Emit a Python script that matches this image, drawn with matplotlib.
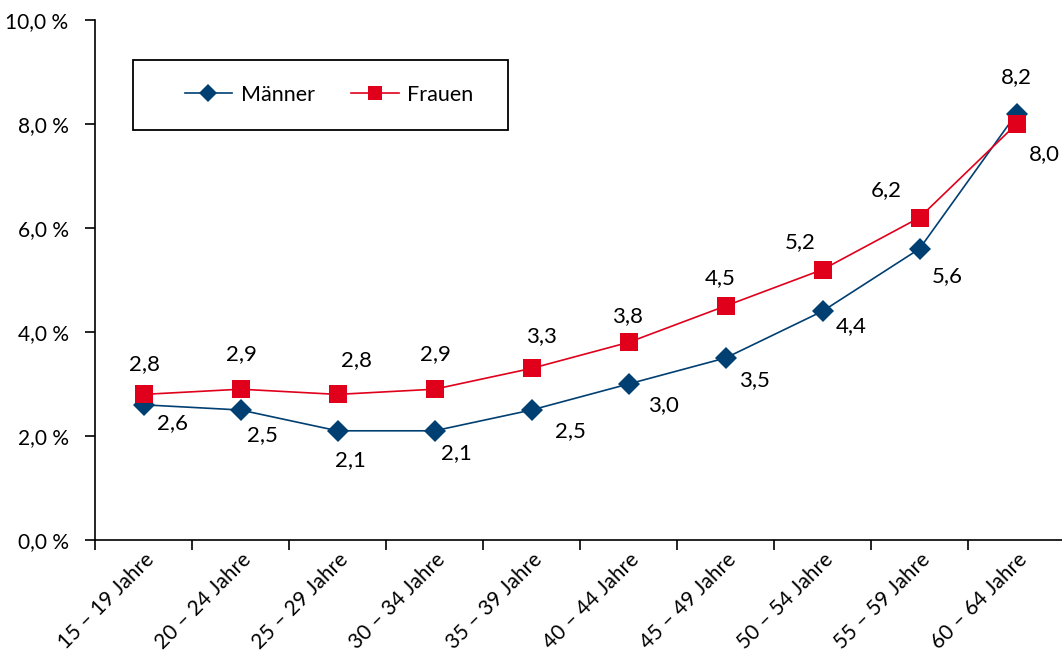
import matplotlib
matplotlib.use("Agg")
import matplotlib.pyplot as plt
from matplotlib.patches import Rectangle
from matplotlib.lines import Line2D

plt.rcParams['font.family'] = ['Lato', 'DejaVu Sans']

categories = ["15 – 19 Jahre", "20 – 24 Jahre", "25 – 29 Jahre", "30 – 34 Jahre",
              "35 – 39 Jahre", "40 – 44 Jahre", "45 – 49 Jahre", "50 – 54 Jahre",
              "55 – 59 Jahre", "60 – 64 Jahre"]
maenner = [2.6, 2.5, 2.1, 2.1, 2.5, 3.0, 3.5, 4.4, 5.6, 8.2]
frauen = [2.8, 2.9, 2.8, 2.9, 3.3, 3.8, 4.5, 5.2, 6.2, 8.0]
y_ticks = [0, 2, 4, 6, 8, 10]

# label offsets in points (styling)
m_off = [(21, -13), (16, -18), (9, -21), (16, -16), (28, -15), (25, -15), (21, -16), (21, -11), (20, -20), (0, 26)]
f_off = [(1, 22), (1, 25), (14, 25), (1, 25), (7, 23), (-1, 19), (-4, 20), (-16, 20), (-24, 20), (20, -22)]

BLUE = "#003F72"
RED = "#E0001B"

fig = plt.figure(figsize=(10.62, 6.57), dpi=100)
ax = fig.add_axes([95/1062, 117/657, 970/1062, 520/657])

x = list(range(len(categories)))
ax.plot(x, maenner, color=BLUE, lw=1.2, marker='D', markersize=11.5, markeredgewidth=0, zorder=3)
ax.plot(x, frauen, color=RED, lw=1.2, marker='s', markersize=13.5, markeredgewidth=0, zorder=4)

def fmt(v):
    return f"{v:.1f}".replace('.', ',')

for i, v in enumerate(maenner):
    ax.annotate(fmt(v), (i, v), xytext=m_off[i], textcoords='offset points',
                ha='center', va='center', fontsize=16, color='black')
for i, v in enumerate(frauen):
    ax.annotate(fmt(v), (i, v), xytext=f_off[i], textcoords='offset points',
                ha='center', va='center', fontsize=16, color='black')

ax.set_xlim(-0.5, len(categories) - 0.5)
ax.set_ylim(0, 10)
ax.set_yticks(y_ticks)
ax.set_yticklabels([f"{fmt(t)} %" for t in y_ticks], fontsize=15)
ax.set_xticks([i - 0.5 for i in range(len(categories) + 1)])
ax.set_xticklabels([])
ax.set_xticks(x, minor=True)
ax.set_xticklabels(categories, minor=True, rotation=45, ha='right', rotation_mode='anchor', fontsize=15)
ax.tick_params(axis='x', which='minor', length=0, pad=7)
ax.tick_params(axis='both', which='major', length=7, width=1.2, direction='out', color='black')
ax.tick_params(axis='y', pad=12)

for s in ['top', 'right']:
    ax.spines[s].set_visible(False)
for s in ['left', 'bottom']:
    ax.spines[s].set_linewidth(1.2)
    ax.spines[s].set_color('black')

# legend frame
fig.patches.append(Rectangle((133/1062, 1 - 130/657), (508-133)/1062, 70/657,
                             transform=fig.transFigure, fill=False, edgecolor='black', lw=1.3))
handles = [Line2D([], [], color=BLUE, lw=1.2, marker='D', markersize=9, markeredgewidth=0),
           Line2D([], [], color=RED, lw=1.2, marker='s', markersize=10.5, markeredgewidth=0)]
fig.legend(handles, ["Männer", "Frauen"], ncol=2, frameon=False, fontsize=15.5,
           loc='center', bbox_to_anchor=(329/1062, 1 - 95/657), handlelength=2.2,
           columnspacing=1.7, handletextpad=0.4)

fig.savefig("out.png", dpi=100)
